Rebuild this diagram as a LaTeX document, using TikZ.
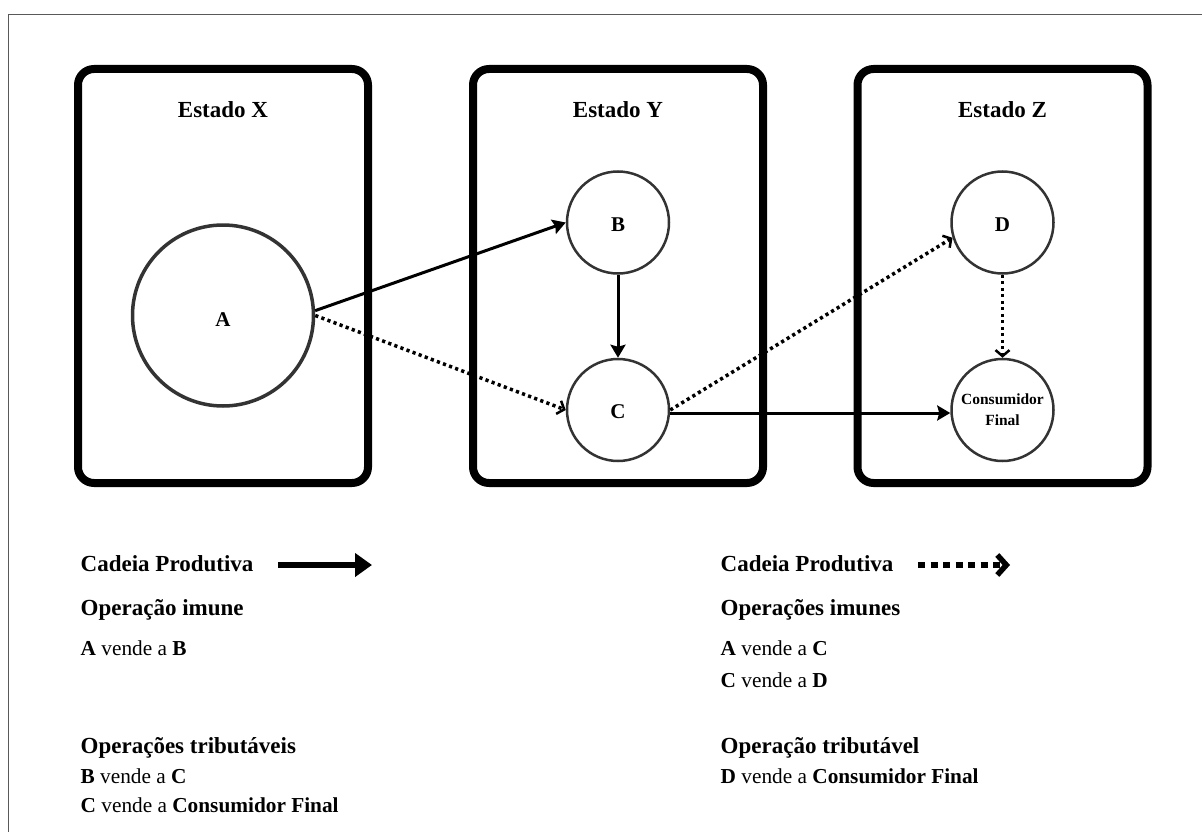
\documentclass[tikz,border=0pt]{standalone}
\usepackage{fontspec}
\setmainfont{Liberation Serif}
\usetikzlibrary{arrows.meta}
% lower a label by #1 without changing the box the node centres on
\newcommand{\lowerlabel}[2]{\raisebox{-#1}[\height][0pt]{#2}}
\begin{document}
\begin{tikzpicture}[x=1pt,y=-1pt,
  statebox/.style={draw=black, line width=8pt, rounded corners=16pt,
    minimum width=290pt, minimum height=414pt, inner sep=0pt},
  statetitle/.style={font=\fontsize{23}{28}\selectfont\bfseries, anchor=base, inner sep=0pt},
  agent/.style={circle, draw=black!80, line width=2.5pt, fill=white,
    minimum size=102pt, inner sep=0pt, font=\fontsize{21}{25}\selectfont\bfseries},
  chain/.style={line width=3pt, -{Stealth[inset=2pt,length=13pt,width=15pt]}},
  chaindot/.style={line width=3.5pt, dash pattern=on 3.2pt off 3.3pt,
    -{Straight Barb[length=6pt,width=14pt,line width=2.5pt]}},
  legendhead/.style={font=\fontsize{23}{28}\selectfont\bfseries, anchor=base west, inner sep=0pt},
  legenditem/.style={font=\fontsize{21.3}{26}\selectfont, anchor=base west, inner sep=0pt},
]
\useasboundingbox (0,0) rectangle (1202,832);
% page frame
\draw[black!65, line width=1.5pt] (8.5,832) -- (8.5,14.5) -- (1202,14.5);

% states
\node[statebox] (boxX) at (223,276) {};
\node[statebox] (boxY) at (618,276) {};
\node[statebox] (boxZ) at (1002.5,276) {};
\node[statetitle] (tX) at (223,118) {Estado X};
\node[statetitle] (tY) at (618,118) {Estado Y};
\node[statetitle] (tZ) at (1002.5,118) {Estado Z};

% agents
\node[agent, minimum size=181pt, line width=3.5pt] (A) at (223,315.5) {\lowerlabel{4pt}{A}};
\node[agent] (B) at (618,222.5) {\lowerlabel{2pt}{B}};
\node[agent] (C) at (618,410) {\lowerlabel{2pt}{C}};
\node[agent] (D) at (1002.5,222.5) {\lowerlabel{2pt}{D}};
\node[agent, align=center, font=\fontsize{15.5}{21}\selectfont\bfseries] (CF) at (1002.5,410) {Consumidor\\Final};

% operations
\draw[chain] (A.3) -- (B.west);
\draw[chaindot] (A.east) -- (C.west);
\draw[chain] (B.south) -- (C.north);
\draw[chaindot] (C.east) -- (D.197);
\draw[chain] ([yshift=-3pt]C.east) -- ([yshift=-3pt]CF.west);
\draw[chaindot] (D.south) -- (CF.north);

% legend: solid chain
\node[legendhead] (lg1) at (80.5,571) {Cadeia Produtiva};
\coordinate (ls1) at (278,565);
\coordinate (le1) at (372,565);
\draw[line width=6pt, -{Triangle[length=17pt,width=23pt]}] (ls1) -- (le1);
\node[legendhead] (h1) at (80.5,615) {Operação imune};
\node[legenditem] (i1) at (80.5,655) {\textbf{A} vende a \textbf{B}};
\node[legendhead] (h2) at (80.5,753) {Operações tributáveis};
\node[legenditem] (i2) at (80.5,783) {\textbf{B} vende a \textbf{C}};
\node[legenditem] (i3) at (80.5,812.5) {\textbf{C} vende a \textbf{Consumidor Final}};

% legend: dotted chain
\node[legendhead] (lg2) at (720.5,571) {Cadeia Produtiva};
\coordinate (ls2) at (918,565);
\coordinate (le2) at (1010,565);
\draw[line width=6pt, dash pattern=on 7pt off 5.5pt,
  -{Straight Barb[length=9pt,width=20pt,line width=5.5pt]}] (ls2) -- (le2);
\node[legendhead] (h3) at (720.5,615) {Operações imunes};
\node[legenditem] (i4) at (720.5,655) {\textbf{A} vende a \textbf{C}};
\node[legenditem] (i5) at (720.5,687) {\textbf{C} vende a \textbf{D}};
\node[legendhead] (h4) at (720.5,753) {Operação tributável};
\node[legenditem] (i6) at (720.5,783) {\textbf{D} vende a \textbf{Consumidor Final}};
\end{tikzpicture}
\end{document}
